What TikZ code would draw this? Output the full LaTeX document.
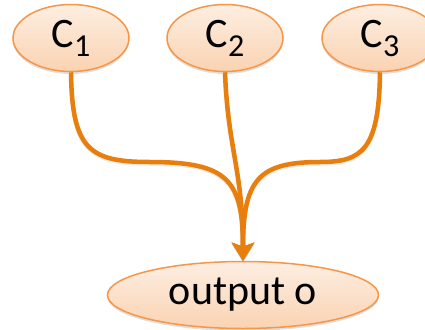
\documentclass[tikz,border=0pt]{standalone}
\usepackage{fontspec}
\setmainfont{Carlito}
\usetikzlibrary{shapes.geometric,arrows.meta,shadows}
\definecolor{edgeor}{HTML}{F79646}
\definecolor{lineor}{HTML}{E87E0C}
\definecolor{filltop}{HTML}{FDEEE2}
\definecolor{fillbot}{HTML}{FAD3B2}
\newcommand{\mysub}[1]{\raisebox{-9bp}{\fontsize{32bp}{34bp}\selectfont #1}}
\tikzset{
  cnode/.style={ellipse, draw=edgeor, line width=1.5bp, top color=filltop, bottom color=fillbot,
    minimum width=116bp, minimum height=67bp, inner sep=0pt, font=\fontsize{42bp}{46bp}\selectfont,
    drop shadow={opacity=0.25, shadow xshift=0bp, shadow yshift=-2.5bp}},
  onode/.style={cnode, minimum width=271bp},
  flow/.style={draw=lineor, line width=4.5bp, -{Stealth[length=18bp,width=22bp,inset=4bp]},
    preaction={draw=black!40, opacity=0.2, line width=4.5bp, transform canvas={yshift=-1.5bp}}}
}
\begin{document}
\begin{tikzpicture}[x=1bp,y=-1bp]
\useasboundingbox (0,0) rectangle (425,330);
\node[cnode] (c1) at (71,38) {C\mysub{1}};
\node[cnode] (c2) at (225,38) {C\mysub{2}};
\node[cnode] (c3) at (380,38) {C\mysub{3}};
\node[onode] (o) at (243,295) {output o};
\draw[flow] (c1.south) .. controls (72,150) and (90,162) .. (150,162) .. controls (228,162) and (243,180) .. (o.north);
\draw[flow] (c2.south) .. controls (228,150) and (243,170) .. (o.north);
\draw[flow] (c3.south) .. controls (379,150) and (362,162) .. (320,162) .. controls (258,162) and (243,180) .. (o.north);
\end{tikzpicture}
\end{document}
